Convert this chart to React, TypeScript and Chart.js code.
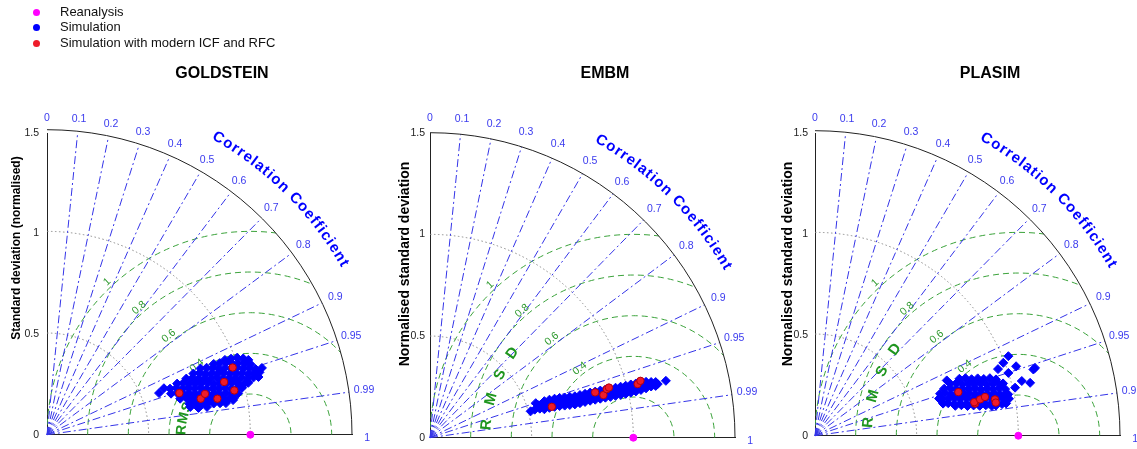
import React, { useEffect, useRef } from "react";
import { Chart, registerables } from "chart.js";

Chart.register(...registerables);

const FONT = "'Liberation Sans', Arial, Helvetica, sans-serif";
Chart.defaults.font.family = FONT;

// ---------- data ----------
const PANEL_TITLES = ["GOLDSTEIN", "EMBM", "PLASIM"];
const Y_TITLES = [
  "Standard deviation (normalised)",
  "Normalised standard deviation",
  "Normalised standard deviation",
];
const LEGEND_LABELS = ["Reanalysis", "Simulation", "Simulation with modern ICF and RFC"];
const STD_TICKS = [0, 0.5, 1, 1.5];
const STD_MAX = 1.5;
const STD_ARCS = [0.5, 1];
const CORR_TICKS = [0, 0.1, 0.2, 0.3, 0.4, 0.5, 0.6, 0.7, 0.8, 0.9, 0.95, 0.99, 1];
const RMS_LEVELS = [0.2, 0.4, 0.6, 0.8, 1];
const RMS_LABELLED = [0.4, 0.6, 0.8, 1];

// points as [sd*R, sd*sqrt(1-R^2)] in normalised units
const REANALYSIS: number[][] = [[1, 0]];

const GOLDSTEIN_SIM: number[][] = [
  [0.905, 0.378], [0.935, 0.383], [0.965, 0.379],
  [0.82, 0.352], [0.85, 0.356], [0.88, 0.359], [0.91, 0.354], [0.94, 0.357], [0.97, 0.355], [1.0, 0.351],
  [0.755, 0.329], [0.785, 0.333], [0.815, 0.331], [0.845, 0.328], [0.875, 0.332], [0.905, 0.33], [0.935, 0.334], [0.965, 0.329], [0.995, 0.331], [1.025, 0.327],
  [0.72, 0.304], [0.75, 0.307], [0.78, 0.302], [0.81, 0.306], [0.84, 0.304], [0.87, 0.308], [0.9, 0.303], [0.93, 0.305], [0.96, 0.307], [0.99, 0.302], [1.02, 0.306], [1.045, 0.31],
  [0.685, 0.279], [0.715, 0.282], [0.745, 0.277], [0.775, 0.281], [0.805, 0.28], [0.835, 0.283], [0.865, 0.278], [0.895, 0.281], [0.925, 0.279], [0.955, 0.283], [0.985, 0.28], [1.015, 0.284],
  [0.64, 0.254], [0.67, 0.257], [0.7, 0.253], [0.73, 0.256], [0.76, 0.255], [0.79, 0.258], [0.82, 0.252], [0.85, 0.256], [0.88, 0.254], [0.91, 0.257], [0.94, 0.255], [0.97, 0.253], [0.99, 0.258],
  [0.605, 0.229], [0.635, 0.232], [0.665, 0.228], [0.695, 0.231], [0.725, 0.23], [0.755, 0.233], [0.785, 0.227], [0.815, 0.231], [0.845, 0.229], [0.875, 0.232], [0.905, 0.228], [0.935, 0.231], [0.96, 0.234],
  [0.61, 0.204], [0.64, 0.207], [0.67, 0.203], [0.7, 0.206], [0.73, 0.205], [0.76, 0.208], [0.79, 0.202], [0.82, 0.206], [0.85, 0.204], [0.88, 0.207], [0.91, 0.203], [0.94, 0.206],
  [0.655, 0.179], [0.685, 0.182], [0.715, 0.178], [0.745, 0.181], [0.775, 0.18], [0.805, 0.183], [0.835, 0.177], [0.865, 0.181], [0.895, 0.179], [0.92, 0.183],
  [0.7, 0.154], [0.73, 0.157], [0.76, 0.153], [0.79, 0.156], [0.82, 0.155], [0.85, 0.158], [0.88, 0.157],
  [0.575, 0.231], [0.551, 0.207], [0.705, 0.138], [0.745, 0.133], [0.787, 0.138], [0.852, 0.158], [0.915, 0.172],
  [1.057, 0.332], [1.04, 0.287], [0.875, 0.372], [0.99, 0.372],
];
const GOLDSTEIN_MODERN: number[][] = [
  [0.651, 0.207], [0.756, 0.179], [0.777, 0.203], [0.838, 0.179], [0.871, 0.262], [0.913, 0.334], [0.921, 0.22],
];

const EMBM_SIM: number[][] = [
  // upper edge of the band
  [0.5625, 0.18], [0.5875, 0.187], [0.6125, 0.192], [0.6375, 0.196], [0.6625, 0.198], [0.6875, 0.201], [0.7125, 0.204], [0.7375, 0.21],
  [0.7625, 0.216], [0.7875, 0.222], [0.8125, 0.227], [0.8375, 0.232], [0.8625, 0.237], [0.8875, 0.241], [0.9125, 0.246], [0.9375, 0.251],
  [0.9625, 0.256], [0.9875, 0.262], [1.0125, 0.267], [1.0375, 0.272], [1.0625, 0.275], [1.0875, 0.274], [1.11, 0.274],
  // core of the band
  [0.55, 0.157], [0.575, 0.164], [0.6, 0.17], [0.625, 0.175], [0.65, 0.177], [0.675, 0.179], [0.7, 0.182], [0.725, 0.187],
  [0.75, 0.193], [0.775, 0.199], [0.8, 0.204], [0.825, 0.209], [0.85, 0.214], [0.875, 0.219], [0.9, 0.223], [0.925, 0.228],
  [0.95, 0.233], [0.975, 0.239], [1.0, 0.245], [1.025, 0.251], [1.05, 0.256], [1.075, 0.261], [1.1, 0.263], [1.12, 0.264],
  // lower edge of the band
  [0.5625, 0.14], [0.5875, 0.147], [0.6125, 0.152], [0.6375, 0.156], [0.6625, 0.158], [0.6875, 0.161], [0.7125, 0.164], [0.7375, 0.17],
  [0.7625, 0.176], [0.7875, 0.182], [0.8125, 0.187], [0.8375, 0.192], [0.8625, 0.197], [0.8875, 0.201], [0.9125, 0.206], [0.9375, 0.211],
  [0.9625, 0.216], [0.9875, 0.222], [1.0125, 0.228], [1.0375, 0.235], [1.0625, 0.243], [1.0875, 0.252], [1.11, 0.255],
  // tips
  [0.495, 0.13], [0.515, 0.138], [0.52, 0.17], [0.535, 0.16], [0.54, 0.143], [1.16, 0.28],
];
const EMBM_MODERN: number[][] = [
  [0.599, 0.152], [0.812, 0.223], [0.853, 0.21], [0.869, 0.239], [0.88, 0.247], [1.021, 0.264], [1.035, 0.28],
];

const PLASIM_SIM: number[][] = [
  [0.71, 0.282], [0.74, 0.285], [0.77, 0.28], [0.8, 0.284], [0.83, 0.281], [0.86, 0.285], [0.89, 0.279],
  [0.665, 0.257], [0.695, 0.26], [0.725, 0.255], [0.755, 0.258], [0.785, 0.256], [0.815, 0.259], [0.845, 0.254], [0.875, 0.258], [0.905, 0.256], [0.925, 0.259],
  [0.635, 0.233], [0.665, 0.235], [0.695, 0.231], [0.725, 0.234], [0.755, 0.232], [0.785, 0.236], [0.815, 0.23], [0.845, 0.234], [0.875, 0.232], [0.905, 0.235], [0.935, 0.231],
  [0.615, 0.208], [0.64, 0.211], [0.67, 0.206], [0.7, 0.209], [0.73, 0.207], [0.76, 0.21], [0.79, 0.205], [0.82, 0.209], [0.85, 0.207], [0.88, 0.21], [0.91, 0.206], [0.94, 0.209], [0.95, 0.205],
  [0.61, 0.184], [0.625, 0.186], [0.655, 0.182], [0.685, 0.185], [0.715, 0.183], [0.745, 0.186], [0.775, 0.181], [0.805, 0.185], [0.835, 0.183], [0.865, 0.186], [0.895, 0.182], [0.925, 0.185], [0.954, 0.183],
  [0.63, 0.159], [0.655, 0.161], [0.685, 0.157], [0.715, 0.16], [0.745, 0.158], [0.775, 0.161], [0.805, 0.156], [0.835, 0.16], [0.865, 0.158], [0.895, 0.161], [0.92, 0.157], [0.94, 0.16],
  [0.69, 0.148], [0.72, 0.151], [0.75, 0.147], [0.78, 0.15], [0.81, 0.148], [0.84, 0.151], [0.87, 0.147], [0.89, 0.15],
  [0.648, 0.274],
  [0.951, 0.394], [0.926, 0.361], [0.989, 0.344], [0.951, 0.311], [1.074, 0.328], [1.082, 0.336],
  [1.058, 0.262], [1.017, 0.271], [0.984, 0.238], [0.9, 0.33],
];
const PLASIM_MODERN: number[][] = [
  [0.705, 0.216], [0.787, 0.159], [0.783, 0.166], [0.812, 0.18], [0.836, 0.192], [0.885, 0.18], [0.889, 0.164],
];

const SIM_SETS = [GOLDSTEIN_SIM, EMBM_SIM, PLASIM_SIM];
const MODERN_SETS = [GOLDSTEIN_MODERN, EMBM_MODERN, PLASIM_MODERN];

// ---------- layout / style ----------
const COLORS = { reanalysis: "#ff00ff", sim: "#0000ff", modern: "#ee1c2a", modernEdge: "#b3000f" };
const LAYOUT = [
  { left: 0, width: 385, axisW: 47, padR: 33, tickPad: 8, ytX: 17, ytY: 248, ytSize: 12, rmsdR: 0.338, rmsdA0: 176, rmsdA1: null as number | null, rmsdSize: 14 },
  { left: 385, width: 385, axisW: 45, padR: 35, tickPad: 5, ytX: 20, ytY: 264, ytSize: 14, rmsdR: 0.725, rmsdA0: 175, rmsdA1: 145 as number | null, rmsdSize: 15 },
  { left: 770, width: 367, axisW: 45, padR: 17, tickPad: 7, ytX: 18.5, ytY: 264, ytSize: 14, rmsdR: 0.74, rmsdA0: 175, rmsdA1: 145 as number | null, rmsdSize: 15 },
];
const RMS_LABEL_ANGLE: Record<string, number> = { "0.4": 127.8, "0.6": 129.5, "0.8": 131.2, "1": 133.1 };

function drawArcText(
  ctx: CanvasRenderingContext2D, text: string, cx: number, cy: number, R: number,
  a0deg: number, a1deg: number | null, spacing: number
) {
  const chars = [...text];
  const ws = chars.map((ch) => ctx.measureText(ch).width);
  const n = ws.length;
  let sp = spacing;
  if (a1deg !== null && n > 1) {
    let natural = 0;
    for (let i = 0; i < n - 1; i++) natural += ws[i];
    natural += ws[n - 1] / 2 - ws[0] / 2;
    const target = ((a0deg - a1deg) * Math.PI) / 180 * R;
    sp = (target - natural) / (n - 1);
  }
  const a0 = (a0deg * Math.PI) / 180;
  let p = 0;
  ctx.textAlign = "center";
  ctx.textBaseline = "middle";
  for (let i = 0; i < n; i++) {
    if (i > 0) p += ws[i - 1] / 2 + sp + ws[i] / 2;
    const a = a0 - p / R;
    ctx.save();
    ctx.translate(cx + R * Math.cos(a), cy - R * Math.sin(a));
    ctx.rotate(Math.PI / 2 - a);
    ctx.fillText(chars[i], 0, 0);
    ctx.restore();
  }
}

function makeTaylorPlugin(idx: number) {
  const L = LAYOUT[idx];
  return {
    id: "taylor" + idx,
    beforeDatasetsDraw(chart: any) {
      const ctx: CanvasRenderingContext2D = chart.ctx;
      const xs = chart.scales.x;
      const ys = chart.scales.y;
      const px = (v: number) => xs.getPixelForValue(v);
      const py = (v: number) => ys.getPixelForValue(v);
      const ox = px(0);
      const oy = py(0);
      const u = px(1) - ox;
      const rx = px(REANALYSIS[0][0]);
      const ry = py(REANALYSIS[0][1]);
      ctx.save();
      ctx.lineWidth = 1;

      // std dev arcs (dotted)
      ctx.strokeStyle = "#8a8a8a";
      ctx.setLineDash([1.5, 2.5]);
      for (const r of STD_ARCS) {
        ctx.beginPath();
        ctx.arc(ox, oy, r * u, -Math.PI / 2, 0);
        ctx.stroke();
      }

      // RMS difference arcs
      ctx.save();
      ctx.beginPath();
      ctx.moveTo(ox, oy);
      ctx.arc(ox, oy, STD_MAX * u, -Math.PI / 2, 0);
      ctx.closePath();
      ctx.clip();
      ctx.strokeStyle = "#3aa23a";
      ctx.setLineDash([6, 4]);
      for (const r of RMS_LEVELS) {
        ctx.beginPath();
        ctx.arc(rx, ry, r * u, Math.PI, 2 * Math.PI);
        ctx.stroke();
      }
      ctx.restore();

      // correlation rays
      ctx.strokeStyle = "#3434e8";
      ctx.setLineDash([8, 3, 2, 3]);
      for (const c of CORR_TICKS) {
        if (c === 0 || c === 1) continue;
        const s = Math.sqrt(1 - c * c);
        ctx.beginPath();
        ctx.moveTo(ox, oy);
        ctx.lineTo(px(STD_MAX * c), py(STD_MAX * s));
        ctx.stroke();
      }

      // outer arc
      ctx.setLineDash([]);
      ctx.strokeStyle = "#222";
      ctx.beginPath();
      ctx.arc(ox, oy, STD_MAX * u, -Math.PI / 2, 0);
      ctx.stroke();

      // correlation tick labels
      ctx.fillStyle = "#3a3aee";
      ctx.font = `10.5px ${FONT}`;
      ctx.textAlign = "center";
      ctx.textBaseline = "middle";
      for (const c of CORR_TICKS) {
        const s = Math.sqrt(1 - c * c);
        ctx.fillText(String(c), px(1.575 * c), py(1.575 * s) + (c === 1 ? 3 : 0));
      }

      // Correlation Coefficient title
      ctx.fillStyle = "#0000ff";
      ctx.font = `bold 15px ${FONT}`;
      drawArcText(ctx, "Correlation Coefficient", ox, oy, 1.685 * u, 60, 30, 0);

      // RMS labels
      ctx.fillStyle = "#2f9a2f";
      ctx.font = `10.5px ${FONT}`;
      for (const r of RMS_LABELLED) {
        const key = String(r);
        const a = (RMS_LABEL_ANGLE[key] * Math.PI) / 180;
        const d = (r + 0.03) * u;
        ctx.save();
        ctx.translate(rx + d * Math.cos(a), ry - d * Math.sin(a));
        ctx.rotate(Math.PI / 2 - a);
        ctx.textAlign = "center";
        ctx.textBaseline = "middle";
        ctx.fillText(key, 0, 0);
        ctx.restore();
      }

      // RMSD
      ctx.fillStyle = "#1f961f";
      ctx.font = `bold ${L.rmsdSize}px ${FONT}`;
      drawArcText(ctx, "RMSD", rx, ry, L.rmsdR * u, L.rmsdA0, L.rmsdA1, 1);

      ctx.restore();
    },
    afterDraw(chart: any) {
      const ctx: CanvasRenderingContext2D = chart.ctx;
      const ox = chart.scales.x.getPixelForValue(0);
      ctx.save();
      ctx.fillStyle = "#000";
      ctx.textAlign = "center";
      ctx.textBaseline = "middle";
      ctx.font = `bold 16px ${FONT}`;
      ctx.fillText(PANEL_TITLES[idx], ox + 175, 73.5);
      ctx.translate(L.ytX, L.ytY);
      ctx.rotate(-Math.PI / 2);
      ctx.font = `bold ${L.ytSize}px ${FONT}`;
      ctx.fillText(Y_TITLES[idx], 0, 0);
      ctx.restore();
    },
  };
}

function TaylorPanel({ idx }: { idx: number }) {
  const ref = useRef<HTMLCanvasElement>(null);
  const L = LAYOUT[idx];
  useEffect(() => {
    if (!ref.current) return;
    const chart = new Chart(ref.current, {
      type: "scatter",
      data: {
        // first dataset is drawn on top
        datasets: [
          {
            label: LEGEND_LABELS[0],
            data: REANALYSIS.map(([x, y]) => ({ x, y })),
            pointStyle: "circle",
            pointRadius: 3.5,
            backgroundColor: COLORS.reanalysis,
            borderColor: COLORS.reanalysis,
            borderWidth: 1,
            clip: false,
          } as any,
          {
            label: LEGEND_LABELS[2],
            data: MODERN_SETS[idx].map(([x, y]) => ({ x, y })),
            pointStyle: "circle",
            pointRadius: 3.7,
            backgroundColor: COLORS.modern,
            borderColor: COLORS.modernEdge,
            borderWidth: 1,
          },
          {
            label: LEGEND_LABELS[1],
            data: SIM_SETS[idx].map(([x, y]) => ({ x, y })),
            pointStyle: "rectRot",
            pointRadius: 4.5,
            backgroundColor: COLORS.sim,
            borderColor: COLORS.sim,
            borderWidth: 1,
          },
        ],
      },
      options: {
        responsive: false,
        maintainAspectRatio: false,
        animation: false,
        events: [],
        layout: { padding: { left: 0, right: L.padR, top: 133, bottom: 11 } },
        plugins: { legend: { display: false }, tooltip: { enabled: false }, title: { display: false } },
        scales: {
          x: {
            type: "linear",
            min: 0,
            max: STD_MAX,
            grid: { display: false, drawTicks: false },
            border: { display: true, color: "#222", width: 1 },
            ticks: { display: false },
            afterFit: (s: any) => { s.height = 0; },
          },
          y: {
            type: "linear",
            min: 0,
            max: STD_MAX,
            grid: { display: false, drawTicks: false },
            border: { display: true, color: "#222", width: 1 },
            ticks: {
              padding: L.tickPad,
              color: "#222",
              font: { size: 10.5, family: FONT },
              callback: (v: any) => String(v),
            },
            afterBuildTicks: (s: any) => { s.ticks = STD_TICKS.map((v) => ({ value: v })); },
            afterFit: (s: any) => { s.width = L.axisW; },
          },
        },
      } as any,
      plugins: [makeTaylorPlugin(idx)],
    });
    return () => chart.destroy();
  }, [idx]);
  return (
    <canvas
      ref={ref}
      width={L.width}
      height={449}
      style={{ position: "absolute", left: L.left, top: 0, width: L.width, height: 449 }}
    />
  );
}

const LEGEND_COLORS = [COLORS.reanalysis, COLORS.sim, COLORS.modern];
const LEGEND_Y = [12, 27, 43];

export default function App() {
  return (
    <div
      style={{
        position: "fixed",
        left: 0,
        top: 0,
        width: 1137,
        height: 449,
        background: "#fff",
        overflow: "hidden",
      }}
    >
      {[0, 1, 2].map((i) => (
        <TaylorPanel key={i} idx={i} />
      ))}
      {LEGEND_LABELS.map((label, i) => (
        <div key={label}>
          <span
            style={{
              position: "absolute",
              left: 33,
              top: LEGEND_Y[i] - 3.5,
              width: 7,
              height: 7,
              borderRadius: "50%",
              background: LEGEND_COLORS[i],
            }}
          />
          <span
            style={{
              position: "absolute",
              left: 60,
              top: LEGEND_Y[i] - 8,
              height: 16,
              lineHeight: "16px",
              font: `13px ${FONT}`,
              color: "#111",
              whiteSpace: "nowrap",
            }}
          >
            {label}
          </span>
        </div>
      ))}
    </div>
  );
}
